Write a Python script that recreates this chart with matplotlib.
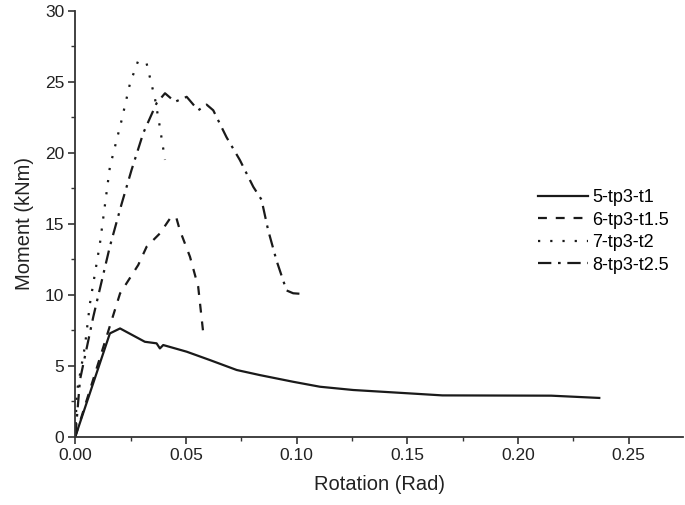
import matplotlib
matplotlib.use("Agg")
import matplotlib.pyplot as plt
from matplotlib import ticker

plt.rcParams['font.family'] = ['Liberation Sans', 'DejaVu Sans']

# 5-tp3-t1
rot_t1 = [0.0, 0.0156, 0.0202, 0.0314, 0.0367, 0.0382, 0.0397, 0.0503, 0.0608,
          0.0729, 0.0834, 0.0984, 0.1105, 0.1255, 0.1500, 0.1658, 0.2150, 0.2367]
mom_t1 = [0.0, 7.27, 7.62, 6.68, 6.57, 6.21, 6.45, 5.98, 5.39,
          4.69, 4.33, 3.86, 3.51, 3.28, 3.05, 2.90, 2.88, 2.72]

# 6-tp3-t1.5
rot_t15 = [0.0, 0.0202, 0.0284, 0.0322, 0.0382, 0.0435, 0.0457, 0.0472, 0.0518, 0.0555, 0.0578, 0.0586]
mom_t15 = [0.0, 10.09, 12.09, 13.38, 14.32, 15.54, 15.38, 14.55, 12.67, 10.56, 7.27, 7.0]

# 7-tp3-t2
rot_t2 = [0.0, 0.0006, 0.0043, 0.0066, 0.0111, 0.0156, 0.0209, 0.0247, 0.0284, 0.0322, 0.0360, 0.0382, 0.0405]
mom_t2 = [0.0, 3.06, 6.33, 9.38, 13.6, 19.0, 22.3, 24.9, 26.5, 26.3, 23.8, 21.8, 19.5]

# 8-tp3-t2.5
rot_t25 = [0.0, 0.0021, 0.0081, 0.0156, 0.0209, 0.0254, 0.0307, 0.0367, 0.0405, 0.0450, 0.0503,
           0.0555, 0.0593, 0.0623, 0.0683, 0.0743, 0.0804, 0.0841, 0.0871, 0.0909, 0.0954,
           0.0984, 0.1037]
mom_t25 = [0.0, 4.0, 8.44, 13.4, 16.4, 18.8, 21.4, 23.5, 24.2, 23.6, 23.95,
           23.0, 23.4, 23.0, 21.1, 19.5, 17.6, 16.7, 14.55, 12.4, 10.3,
           10.1, 10.04]

labels = ['5-tp3-t1', '6-tp3-t1.5', '7-tp3-t2', '8-tp3-t2.5']

fig = plt.figure(figsize=(6.85, 5.05), dpi=100)
ax = fig.add_axes([0.110, 0.1356, 0.887, 0.8426])

c = '#1a1a1a'
ax.plot(rot_t1, mom_t1, color=c, lw=1.6, label=labels[0])
ax.plot(rot_t15, mom_t15, color=c, lw=1.6, ls=(0, (4, 4)), label=labels[1])
ax.plot(rot_t2, mom_t2, color=c, lw=1.6, ls=(0, (1, 4.5)), label=labels[2])
ax.plot(rot_t25, mom_t25, color=c, lw=1.6, ls=(0, (6, 3, 1.2, 3)), label=labels[3])

ax.set_xlim(0, 0.2745)
ax.set_ylim(0, 30)
ax.xaxis.set_major_locator(ticker.MultipleLocator(0.05))
ax.xaxis.set_minor_locator(ticker.MultipleLocator(0.025))
ax.yaxis.set_major_locator(ticker.MultipleLocator(5))
ax.yaxis.set_minor_locator(ticker.MultipleLocator(2.5))
ax.xaxis.set_major_formatter(ticker.FormatStrFormatter('%.2f'))

for s in ['top', 'right']:
    ax.spines[s].set_visible(False)
for s in ['left', 'bottom']:
    ax.spines[s].set_color('#333333')
    ax.spines[s].set_linewidth(1.3)

ax.tick_params(which='major', length=5, width=1.2, color='#333333', labelsize=12.5, labelcolor='#222222', pad=3)
ax.tick_params(which='minor', length=3, width=1.0, color='#333333')

ax.set_xlabel('Rotation (Rad)', fontsize=14.5, color='#222222', labelpad=9)
ax.set_ylabel('Moment (kNm)', fontsize=14.5, color='#222222', labelpad=8)

ax.legend(frameon=False, loc='upper left', bbox_to_anchor=(0.747, 0.602), borderpad=0,
          fontsize=13, handlelength=2.75, handletextpad=0.22, labelspacing=0.3)

fig.savefig('out.png', dpi=100)
